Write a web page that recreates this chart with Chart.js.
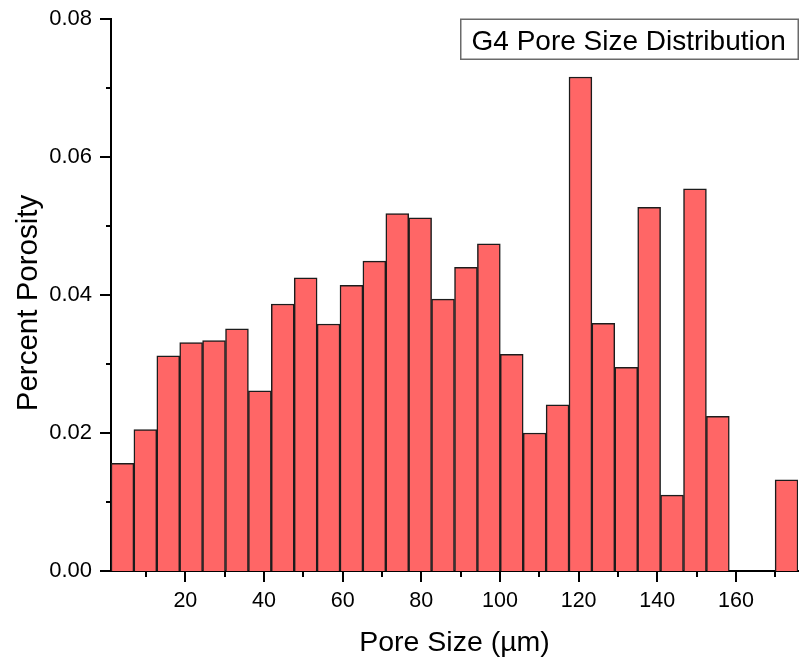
<!DOCTYPE html>
<html>
<head>
<meta charset="utf-8">
<script src="https://cdn.jsdelivr.net/npm/chart.js@4/dist/chart.umd.min.js"></script>
<style>
  html, body { margin: 0; padding: 0; background: #ffffff; }
  #wrap { width: 801px; height: 663px; }
</style>
</head>
<body>
<div id="wrap"><canvas id="c" width="801" height="663"></canvas></div>
<script>
// ---- Data ----
const binCenters = [4.00, 9.82, 15.65, 21.47, 27.29, 33.12, 38.94, 44.76, 50.59, 56.41,
                    62.23, 68.05, 73.88, 79.70, 85.52, 91.35, 97.17, 102.99, 108.82, 114.64,
                    120.46, 126.28, 132.11, 137.93, 143.75, 149.58, 155.40, 161.22, 167.05, 172.87];
const porosity = [0.0156, 0.0205, 0.0312, 0.0331, 0.0334, 0.0351, 0.0261, 0.0387, 0.0425, 0.0358,
                  0.0414, 0.0449, 0.0518, 0.0512, 0.0394, 0.0440, 0.0474, 0.0314, 0.0200, 0.0241,
                  0.0716, 0.0359, 0.0295, 0.0527, 0.0110, 0.0554, 0.0224, 0.0, 0.0, 0.0132];
const xMajorTicks = [20, 40, 60, 80, 100, 120, 140, 160];
const xMinorTicks = [10, 30, 50, 70, 90, 110, 130, 150, 170];
const yMajorTicks = [0.00, 0.02, 0.04, 0.06, 0.08];
const yMinorTicks = [0.01, 0.03, 0.05, 0.07];
const xRange = [1.09, 175.78];
const yRange = [0, 0.08];
const chartTitle = 'G4 Pore Size Distribution';
const xTitle = 'Pore Size (\u00b5m)';
const yTitle = 'Percent Porosity';

const FONT = '"Liberation Sans", Arial, sans-serif';

const decorPlugin = {
  id: 'decor',
  afterDraw(chart) {
    const ctx = chart.ctx;
    const xs = chart.scales.x, ys = chart.scales.y;
    const area = chart.chartArea;
    ctx.save();
    ctx.strokeStyle = '#000';
    ctx.lineWidth = 2;
    ctx.lineCap = 'butt';
    // y ticks
    yMajorTicks.forEach(v => {
      const p = Math.round(ys.getPixelForValue(v));
      ctx.beginPath(); ctx.moveTo(area.left - 11, p); ctx.lineTo(area.left, p); ctx.stroke();
    });
    yMinorTicks.forEach(v => {
      const p = Math.round(ys.getPixelForValue(v));
      ctx.beginPath(); ctx.moveTo(area.left - 5, p); ctx.lineTo(area.left, p); ctx.stroke();
    });
    // x ticks
    xMajorTicks.forEach(v => {
      const p = Math.round(xs.getPixelForValue(v));
      ctx.beginPath(); ctx.moveTo(p, area.bottom); ctx.lineTo(p, area.bottom + 11); ctx.stroke();
    });
    xMinorTicks.forEach(v => {
      const p = Math.round(xs.getPixelForValue(v));
      ctx.beginPath(); ctx.moveTo(p, area.bottom); ctx.lineTo(p, area.bottom + 6); ctx.stroke();
    });

    // axis titles
    ctx.fillStyle = '#000';
    ctx.font = '28.5px ' + FONT;
    ctx.textAlign = 'center';
    ctx.textBaseline = 'alphabetic';
    ctx.fillText(xTitle, (area.left + area.right) / 2, 651);

    ctx.save();
    ctx.translate(37, 303);
    ctx.rotate(-Math.PI / 2);
    ctx.font = '29.5px ' + FONT;
    ctx.fillText(yTitle, 0, 0);
    ctx.restore();

    // title box
    ctx.strokeStyle = '#6a6a6a';
    ctx.lineWidth = 1.5;
    ctx.strokeRect(460.75, 19.25, 337.5, 40);
    ctx.textAlign = 'left';
    ctx.font = '28px ' + FONT;
    ctx.fillStyle = '#000';
    ctx.fillText(chartTitle, 471.5, 49.5);
    ctx.restore();
  }
};

new Chart(document.getElementById('c'), {
  type: 'bar',
  data: {
    datasets: [{
      data: binCenters.map((c, i) => ({ x: c, y: porosity[i] })),
      backgroundColor: '#FF6666',
      borderColor: '#1c1c1c',
      borderWidth: 1.5,
      barPercentage: 1.0,
      categoryPercentage: 1.0
    }]
  },
  options: {
    responsive: false,
    animation: false,
    layout: { padding: { left: 0, top: 19, right: 3, bottom: 0 } },
    plugins: { legend: { display: false }, tooltip: { enabled: false }, title: { display: false } },
    scales: {
      x: {
        type: 'linear',
        offset: false,
        min: xRange[0],
        max: xRange[1],
        afterBuildTicks(scale) { scale.ticks = xMajorTicks.map(v => ({ value: v })); },
        afterFit(scale) { scale.height = 92; scale.paddingLeft = 0; scale.paddingRight = 0; },
        grid: { display: false, drawTicks: false },
        border: { display: true, color: '#000', width: 2 },
        ticks: {
          padding: 17,
          color: '#000',
          font: { family: FONT, size: 21.5 },
          maxRotation: 0,
          autoSkip: false,
          callback: v => String(v)
        }
      },
      y: {
        min: yRange[0],
        max: yRange[1],
        afterBuildTicks(scale) { scale.ticks = yMajorTicks.map(v => ({ value: v })); },
        afterFit(scale) { scale.width = 111; scale.paddingTop = 0; scale.paddingBottom = 0; },
        grid: { display: false, drawTicks: false },
        border: { display: true, color: '#000', width: 2 },
        ticks: {
          padding: 19,
          color: '#000',
          font: { family: FONT, size: 22 },
          callback: v => Number(v).toFixed(2)
        }
      }
    }
  },
  plugins: [decorPlugin]
});
</script>
</body>
</html>
